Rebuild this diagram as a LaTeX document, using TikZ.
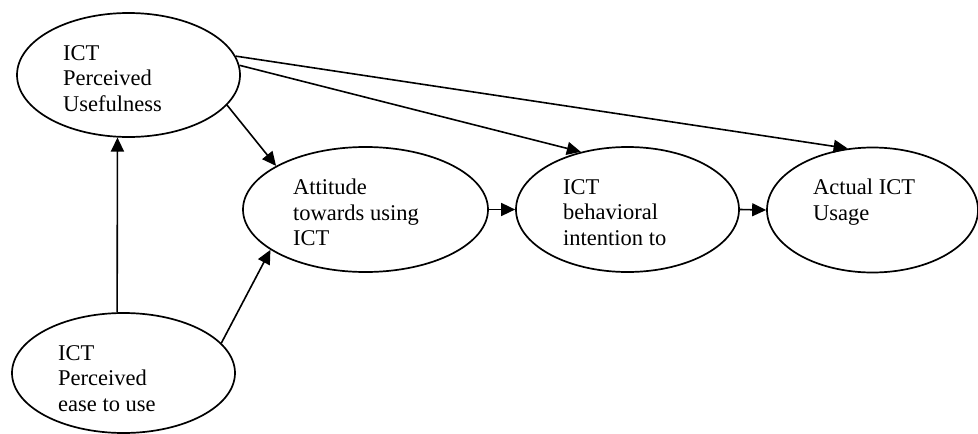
\documentclass[tikz,border=0pt]{standalone}
\usepackage{fontspec}
\setmainfont{Liberation Serif}
\usetikzlibrary{shapes.geometric,arrows.meta}
\begin{document}
\begin{tikzpicture}[x=1pt,y=-1pt,
  oval/.style={draw=black,line width=1.7pt,shape=ellipse,inner sep=0pt},
  lbl/.style={anchor=north west,inner sep=0pt,align=left,font=\fontsize{22.5}{25.5}\selectfont},
  arr/.style={line width=1.6pt,-{Triangle[length=14pt,width=13pt]}}]
\useasboundingbox (0,0) rectangle (978,434);
% ellipses
\node[oval,minimum width=223pt,minimum height=124pt] (PU)  at (128.5,75) {};
\node[oval,minimum width=245pt,minimum height=125pt] (ATT) at (365.5,209.5) {};
\node[oval,minimum width=223pt,minimum height=125pt] (BI)  at (627.5,209.5) {};
\node[oval,minimum width=211pt,minimum height=125pt] (USE) at (872.5,210) {};
\node[oval,minimum width=223pt,minimum height=120pt] (EOU) at (123.5,373) {};
% texts
\node[lbl] (tPU)  at (63,45)   {ICT\\Perceived\\Usefulness};
\node[lbl] (tATT) at (293,179) {Attitude\\towards using\\ICT};
\node[lbl] (tBI)  at (563,179) {ICT\\behavioral\\intention to};
\node[lbl] (tUSE) at (813,179) {Actual ICT\\Usage};
\node[lbl] (tEOU) at (58,345)  {ICT\\Perceived\\ease to use};
% connectors
\draw[arr] (EOU.96) -- (PU.260);
\draw[arr] (EOU.17.6) -- (ATT.203.6);
\draw[arr] (PU.343.8) -- (ATT.154.8);
\draw[arr] (PU.5.1) -- (BI.129.4);
\draw[arr] (PU.10.6) -- (USE.112.4);
\draw[arr] (ATT.east) -- (BI.west);
\draw[arr] (BI.east) -- (USE.west);
\end{tikzpicture}
\end{document}
